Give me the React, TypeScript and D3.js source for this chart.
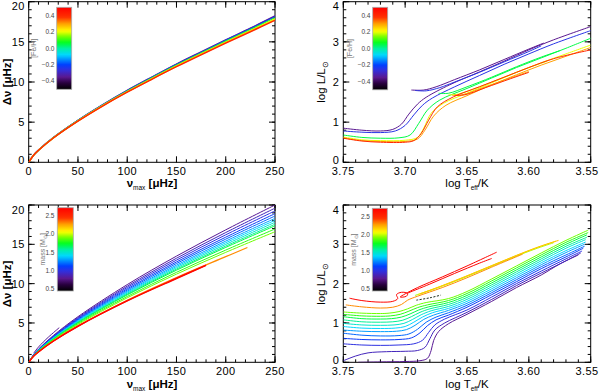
import React, { useEffect, useRef } from "react";
import * as d3 from "d3";

// ---- colour table (IDL-like rainbow, black at bottom) ----
const cmapStops = [0, 0.08, 0.15, 0.24, 0.3, 0.42, 0.5, 0.57, 0.64, 0.71, 0.8, 0.88, 1];
const cmapColors = ["#000000", "#2a0040", "#5a1890", "#3030e0", "#0040ff", "#00d8ff", "#00f0a0", "#00ff20", "#70ff00", "#ffff00", "#ffa000", "#ff3000", "#ff0000"];

// ---- top row: metallicity tracks ----
const fehDomain = [-0.5, 0.5];
const fehTicks = [-0.4, -0.2, 0.0, 0.2, 0.4];
const fehValues = [-0.35, -0.25, 0.05, 0.2, 0.3, 0.4];
const nuTop = [0, 5, 10, 25, 50, 75, 100, 125, 150, 175, 200, 225, 250];
const dnuFeh = [
  [0, 0.9, 1.53, 3.08, 5.24, 7.17, 8.96, 10.62, 12.24, 13.75, 15.25, 16.7, 18.22],
  [0, 0.9, 1.52, 3.07, 5.22, 7.15, 8.93, 10.58, 12.2, 13.7, 15.2, 16.65, 18.15],
  [0, 0.89, 1.51, 3.05, 5.19, 7.1, 8.86, 10.5, 12.1, 13.6, 15.08, 16.52, 18.0],
  [0, 0.89, 1.5, 3.04, 5.16, 7.06, 8.8, 10.43, 12.0, 13.5, 14.97, 16.4, 17.85],
  [0, 0.88, 1.5, 3.03, 5.14, 7.03, 8.76, 10.38, 11.95, 13.44, 14.9, 16.32, 17.75],
  [0, 0.88, 1.49, 3.02, 5.12, 7.0, 8.73, 10.34, 11.9, 13.39, 14.84, 16.25, 17.68],
];
// HR tracks [logTeff, logL]
const hrFehRgb = [
  [[3.75, 0.85], [3.735, 0.8], [3.72, 0.78], [3.71, 0.82], [3.703, 0.95], [3.697, 1.2], [3.69, 1.45], [3.683, 1.62], [3.664, 1.93], [3.64, 2.25], [3.62, 2.52], [3.6, 2.8], [3.58, 3.05], [3.55, 3.38]],
  [[3.75, 0.78], [3.735, 0.75], [3.72, 0.74], [3.708, 0.78], [3.7, 0.92], [3.693, 1.18], [3.686, 1.42], [3.678, 1.6], [3.66, 1.88], [3.64, 2.16], [3.62, 2.44], [3.6, 2.7], [3.58, 2.95], [3.55, 3.28]],
  [[3.75, 0.68], [3.735, 0.62], [3.72, 0.6], [3.705, 0.61], [3.696, 0.68], [3.689, 0.97], [3.682, 1.3], [3.672, 1.55], [3.65, 1.84], [3.63, 2.1], [3.61, 2.36], [3.59, 2.6], [3.57, 2.84], [3.55, 3.09]],
  [[3.75, 0.63], [3.735, 0.56], [3.72, 0.54], [3.7, 0.55], [3.69, 0.62], [3.685, 0.85], [3.679, 1.22], [3.669, 1.47], [3.65, 1.72], [3.63, 1.98], [3.61, 2.24], [3.59, 2.48], [3.57, 2.7], [3.55, 2.92]],
  [[3.75, 0.61], [3.735, 0.54], [3.72, 0.52], [3.7, 0.52], [3.69, 0.58], [3.684, 0.8], [3.677, 1.15], [3.667, 1.42], [3.65, 1.66], [3.63, 1.93], [3.61, 2.18], [3.59, 2.42], [3.57, 2.64], [3.55, 2.86]],
  [[3.75, 0.6], [3.735, 0.53], [3.72, 0.5], [3.7, 0.5], [3.693, 0.54], [3.687, 0.72], [3.681, 1.05], [3.674, 1.38], [3.661, 1.63], [3.64, 1.88], [3.62, 2.12], [3.6, 2.36], [3.58, 2.58], [3.55, 2.8]],
];
const hrFehClump = [
  [[3.695, 1.8], [3.685, 1.8], [3.675, 1.88], [3.66, 2.06], [3.64, 2.3], [3.62, 2.56], [3.6, 2.82], [3.588, 2.97]],
  [[3.692, 1.79], [3.683, 1.78], [3.672, 1.86], [3.66, 2.0], [3.64, 2.24], [3.62, 2.5], [3.6, 2.76], [3.59, 2.9]],
  [[3.673, 1.72], [3.665, 1.72], [3.65, 1.88], [3.63, 2.12], [3.61, 2.38], [3.59, 2.62], [3.575, 2.78]],
  [[3.665, 1.68], [3.657, 1.7], [3.64, 1.88], [3.62, 2.12], [3.6, 2.36], [3.585, 2.52]],
  [[3.662, 1.67], [3.654, 1.68], [3.637, 1.86], [3.617, 2.08], [3.6, 2.26]],
  [[3.66, 1.67], [3.652, 1.68], [3.635, 1.86], [3.615, 2.08], [3.6, 2.24]],
];

// ---- bottom row: mass tracks ----
const massDomain = [0.45, 2.72];
const massTicks = [0.5, 1.0, 1.5, 2.0, 2.5];
const masses = [0.8, 0.9, 1.0, 1.1, 1.2, 1.3, 1.4, 1.5, 1.6, 1.7, 1.8, 1.9];
const nuBottom = [0, 5, 10, 25, 50, 100, 150, 200, 250];
const dnuMass = [
  [0, 0.98, 1.68, 3.4, 5.8, 9.88, 13.5, 16.84, 20.0],
  [0, 0.96, 1.65, 3.33, 5.68, 9.68, 13.23, 16.5, 19.6],
  [0, 0.94, 1.62, 3.27, 5.58, 9.51, 12.99, 16.21, 19.25],
  [0, 0.93, 1.59, 3.21, 5.48, 9.34, 12.76, 15.91, 18.9],
  [0, 0.91, 1.56, 3.16, 5.39, 9.19, 12.56, 15.66, 18.6],
  [0, 0.9, 1.54, 3.11, 5.31, 9.04, 12.35, 15.41, 18.3],
  [0, 0.88, 1.52, 3.07, 5.23, 8.92, 12.18, 15.2, 18.05],
  [0, 0.87, 1.5, 3.03, 5.16, 8.79, 12.02, 14.99, 17.8],
  [0, 0.86, 1.47, 2.98, 5.09, 8.67, 11.85, 14.78, 17.55],
  [0, 0.85, 1.46, 2.95, 5.03, 8.57, 11.71, 14.61, 17.35],
  [0, 0.83, 1.42, 2.88, 4.92, 8.37, 11.44, 14.27, 16.95],
  [0, 0.81, 1.39, 2.82, 4.81, 8.2, 11.21, 13.98, 16.6],
];
const massHigh = [2.3, 2.6, 2.7];
const nuHigh = [
  [0, 5, 10, 25, 50, 100, 150, 200, 222],
  [0, 5, 10, 25, 50, 100, 150, 180],
  [0, 5, 10, 25, 50, 100, 150, 180],
];
const dnuHigh = [
  [0, 0.78, 1.34, 2.72, 4.63, 7.89, 10.77, 13.43, 14.6],
  [0, 0.78, 1.33, 2.7, 4.6, 7.84, 10.7, 12.36],
  [0, 0.77, 1.32, 2.68, 4.57, 7.79, 10.63, 12.3],
];
const nuShortLow = [5, 10, 20, 31];
const dnuShortLow = [1.15, 1.95, 3.2, 4.4];

const hrMass = [
  [[3.738, 0.0], [3.72, 0.01], [3.7, 0.02], [3.688, 0.04], [3.682, 0.1], [3.679, 0.3], [3.677, 0.55], [3.673, 0.78], [3.665, 0.98], [3.65, 1.22], [3.63, 1.55], [3.61, 1.9], [3.59, 2.22], [3.575, 2.5], [3.56, 2.73]],
  [[3.75, 0.04], [3.74, 0.16], [3.73, 0.24], [3.715, 0.27], [3.7, 0.28], [3.69, 0.3], [3.684, 0.38], [3.68, 0.6], [3.676, 0.82], [3.668, 1.0], [3.65, 1.27], [3.63, 1.6], [3.61, 1.95], [3.59, 2.27], [3.57, 2.58], [3.558, 2.78]],
  [[3.75, 0.47], [3.735, 0.44], [3.72, 0.43], [3.705, 0.44], [3.693, 0.47], [3.686, 0.56], [3.681, 0.76], [3.676, 0.95], [3.668, 1.1], [3.65, 1.33], [3.63, 1.66], [3.61, 2.0], [3.59, 2.32], [3.57, 2.63], [3.557, 2.83]],
  [[3.75, 0.61], [3.735, 0.58], [3.72, 0.57], [3.705, 0.58], [3.695, 0.62], [3.688, 0.75], [3.682, 0.93], [3.675, 1.08], [3.665, 1.2], [3.65, 1.4], [3.63, 1.72], [3.61, 2.05], [3.59, 2.38], [3.57, 2.68], [3.556, 2.9]],
  [[3.75, 0.74], [3.735, 0.69], [3.72, 0.67], [3.705, 0.68], [3.697, 0.72], [3.69, 0.84], [3.683, 1.02], [3.675, 1.15], [3.665, 1.26], [3.65, 1.45], [3.63, 1.77], [3.61, 2.1], [3.59, 2.43], [3.57, 2.73], [3.555, 2.95]],
  [[3.75, 0.82], [3.735, 0.79], [3.72, 0.78], [3.707, 0.79], [3.699, 0.83], [3.692, 0.94], [3.685, 1.09], [3.677, 1.2], [3.665, 1.32], [3.65, 1.5], [3.63, 1.82], [3.61, 2.15], [3.59, 2.48], [3.57, 2.79], [3.555, 3.0]],
  [[3.75, 0.91], [3.735, 0.87], [3.72, 0.86], [3.708, 0.87], [3.7, 0.91], [3.693, 1.02], [3.686, 1.15], [3.678, 1.26], [3.665, 1.37], [3.65, 1.55], [3.63, 1.87], [3.61, 2.2], [3.59, 2.53], [3.57, 2.84], [3.554, 3.06]],
  [[3.75, 0.99], [3.735, 0.95], [3.72, 0.94], [3.709, 0.95], [3.701, 0.99], [3.694, 1.09], [3.687, 1.21], [3.679, 1.31], [3.665, 1.42], [3.65, 1.6], [3.63, 1.92], [3.61, 2.25], [3.59, 2.58], [3.57, 2.9], [3.554, 3.12]],
  [[3.75, 1.08], [3.735, 1.03], [3.72, 1.02], [3.71, 1.03], [3.702, 1.07], [3.695, 1.16], [3.688, 1.27], [3.68, 1.36], [3.665, 1.47], [3.65, 1.65], [3.63, 1.97], [3.61, 2.3], [3.59, 2.63], [3.57, 2.95], [3.553, 3.18]],
  [[3.75, 1.16], [3.735, 1.11], [3.72, 1.1], [3.711, 1.11], [3.703, 1.15], [3.696, 1.23], [3.689, 1.33], [3.681, 1.41], [3.665, 1.52], [3.65, 1.7], [3.63, 2.02], [3.61, 2.35], [3.59, 2.68], [3.57, 3.0], [3.553, 3.24]],
  [[3.75, 1.22], [3.735, 1.18], [3.72, 1.17], [3.712, 1.18], [3.704, 1.22], [3.697, 1.3], [3.69, 1.39], [3.682, 1.46], [3.665, 1.57], [3.65, 1.75], [3.63, 2.07], [3.61, 2.4], [3.59, 2.73], [3.57, 3.05], [3.552, 3.3]],
  [[3.75, 1.28], [3.735, 1.25], [3.72, 1.24], [3.713, 1.25], [3.705, 1.29], [3.698, 1.36], [3.691, 1.45], [3.683, 1.52], [3.665, 1.62], [3.65, 1.8], [3.63, 2.12], [3.61, 2.45], [3.59, 2.78], [3.57, 3.1], [3.552, 3.36]],
];
const hrAgbMasses = [1.95, 2.1, 2.2];
const hrAgb = [
  [[3.692, 1.7], [3.675, 1.88], [3.655, 2.12], [3.635, 2.38], [3.615, 2.64], [3.595, 2.88], [3.58, 3.04]],
  [[3.69, 1.72], [3.672, 1.92], [3.652, 2.17], [3.632, 2.43], [3.612, 2.69], [3.592, 2.93], [3.578, 3.08]],
  [[3.688, 1.74], [3.67, 1.95], [3.65, 2.2], [3.63, 2.46], [3.61, 2.72], [3.59, 2.96], [3.576, 3.1]],
];
const hrOrange = [[3.748, 1.46], [3.735, 1.41], [3.72, 1.38], [3.71, 1.4], [3.703, 1.47], [3.698, 1.58], [3.69, 1.68], [3.67, 1.9], [3.65, 2.15], [3.63, 2.42], [3.605, 2.75]];
const hrRed = [[3.745, 1.63], [3.735, 1.57], [3.72, 1.53], [3.71, 1.55], [3.706, 1.62], [3.707, 1.72], [3.703, 1.78], [3.698, 1.75], [3.699, 1.68], [3.704, 1.66], [3.7, 1.74], [3.69, 1.9], [3.67, 2.17], [3.65, 2.45], [3.626, 2.8]];
const hrRedAgb = [[3.698, 1.76], [3.68, 1.99], [3.66, 2.26], [3.64, 2.52], [3.63, 2.64]];
const hrZahb = [[3.691, 1.58], [3.68, 1.64], [3.671, 1.71]];

const FONT = "'Liberation Sans', Arial, sans-serif";

export default function App() {
  const svgRef = useRef(null);

  useEffect(() => {
    const svg = d3.select(svgRef.current);
    svg.selectAll("*").remove();

    const cmap = d3.scaleLinear<string>().domain(cmapStops).range(cmapColors).interpolate(d3.interpolateRgb).clamp(true);
    const fehColor = (v: number) => cmap((v - fehDomain[0]) / (fehDomain[1] - fehDomain[0]));
    const massColor = (v: number) => cmap((v - massDomain[0]) / (massDomain[1] - massDomain[0]));

    const defs = svg.append("defs");
    const grad = defs.append("linearGradient").attr("id", "cbar")
      .attr("x1", 0).attr("y1", 1).attr("x2", 0).attr("y2", 0);
    d3.range(0, 41).forEach((i) => {
      grad.append("stop").attr("offset", i / 40).attr("stop-color", cmap(i / 40));
    });

    //panel frame + inward ticks on all sides
    const makePanel = (id, x, y, xMajor, xMinor, yMajor, yMinor, xFmt, yFmt) => {
      const [x0, x1] = x.range();
      const [y0, y1] = y.range();
      defs.append("clipPath").attr("id", id).append("rect")
        .attr("x", x0).attr("y", y1).attr("width", x1 - x0).attr("height", y0 - y1);
      const g = svg.append("g");
      const ax = g.append("g").attr("stroke", "#000").attr("stroke-width", 1);
      xMinor.forEach((v) => {
        const px = x(v);
        ax.append("line").attr("x1", px).attr("x2", px).attr("y1", y0).attr("y2", y0 - 3);
        ax.append("line").attr("x1", px).attr("x2", px).attr("y1", y1).attr("y2", y1 + 3);
      });
      xMajor.forEach((v) => {
        const px = x(v);
        ax.append("line").attr("x1", px).attr("x2", px).attr("y1", y0).attr("y2", y0 - 6);
        ax.append("line").attr("x1", px).attr("x2", px).attr("y1", y1).attr("y2", y1 + 6);
      });
      yMinor.forEach((v) => {
        const py = y(v);
        ax.append("line").attr("x1", x0).attr("x2", x0 + 3).attr("y1", py).attr("y2", py);
        ax.append("line").attr("x1", x1).attr("x2", x1 - 3).attr("y1", py).attr("y2", py);
      });
      yMajor.forEach((v) => {
        const py = y(v);
        ax.append("line").attr("x1", x0).attr("x2", x0 + 6).attr("y1", py).attr("y2", py);
        ax.append("line").attr("x1", x1).attr("x2", x1 - 6).attr("y1", py).attr("y2", py);
      });
      ax.append("rect").attr("x", x0).attr("y", y1).attr("width", x1 - x0).attr("height", y0 - y1)
        .attr("fill", "none");
      const lab = g.append("g").attr("font-family", FONT).attr("font-size", 11)
        .attr("letter-spacing", 0.4).attr("fill", "#000");
      xMajor.forEach((v) => {
        const px = Math.min(x(v), 587);
        lab.append("text").attr("x", px).attr("y", y0 + 13).attr("text-anchor", "middle").text(xFmt(v));
      });
      yMajor.forEach((v) => {
        const py = Math.max(y1 + 8.5, Math.min(y0 + 1.5, y(v) + 4));
        lab.append("text").attr("x", x0 - 4).attr("y", py).attr("text-anchor", "end").text(yFmt(v));
      });
      return g.append("g").attr("clip-path", `url(#${id})`);
    };

    const colorbar = (x0, y0, w, h, domain, ticks, title, titleX, labelRight) => {
      const s = d3.scaleLinear().domain(domain).range([y0 + h, y0]);
      svg.append("rect").attr("x", x0).attr("y", y0).attr("width", w).attr("height", h)
        .attr("fill", "url(#cbar)").attr("stroke", "#aaa").attr("stroke-width", 0.8);
      const g = svg.append("g").attr("font-family", FONT).attr("font-size", 6.5).attr("fill", "#444");
      ticks.forEach((t) => {
        g.append("text").attr("x", labelRight).attr("y", s(t) + 2.3).attr("text-anchor", "end")
          .text(d3.format(".1f")(t).replace("-", "\u2212"));
      });
      const cy = y0 + h / 2;
      const tt = g.append("text").attr("transform", `translate(${titleX},${cy}) rotate(-90)`)
        .attr("text-anchor", "middle").attr("font-size", 7).attr("fill", "#777");
      title(tt);
    };

    const line = (x, y) => d3.line().x((d) => x(d[0])).y((d) => y(d[1])).curve(d3.curveCatmullRom.alpha(0.5));

    const intTicks = (a, b, s) => d3.range(Math.round((b - a) / s) + 1).map((i) => a + i * s);
    const fmtInt = (v) => String(Math.round(v));
    const fmtT = (v) => d3.format(".2f")(v);

    // scales for the four panels
    const xNuTop = d3.scaleLinear().domain([0, 250]).range([28.7, 275]);
    const yDnuTop = d3.scaleLinear().domain([0, 20]).range([162.3, 1.7]);
    const xTTop = d3.scaleLinear().domain([3.75, 3.55]).range([343.3, 590.7]);
    const yLTop = d3.scaleLinear().domain([0, 4]).range([162.3, 1.7]);
    const xNuBot = d3.scaleLinear().domain([0, 250]).range([28.7, 275]);
    const yDnuBot = d3.scaleLinear().domain([0, 20]).range([362.3, 205]);
    const xTBot = d3.scaleLinear().domain([3.75, 3.55]).range([343.3, 590.7]);
    const yLBot = d3.scaleLinear().domain([0, 4]).range([362.3, 205]);

    const nuMajor = intTicks(0, 250, 50);
    const nuMinor = intTicks(0, 250, 10);
    const dnuMajor = intTicks(0, 20, 5);
    const dnuMinor = intTicks(0, 20, 1);
    const tMajor = intTicks(3.55, 3.75, 0.05);
    const tMinor = intTicks(3.55, 3.75, 0.01);
    const lMajor = intTicks(0, 4, 1);
    const lMinor = intTicks(0, 4, 0.2);

    // ---- top left ----
    const p1 = makePanel("c1", xNuTop, yDnuTop, nuMajor, nuMinor, dnuMajor, dnuMinor, fmtInt, fmtInt);
    const l1 = line(xNuTop, yDnuTop);
    fehValues.forEach((f, i) => {
      p1.append("path").datum(nuTop.map((n, j) => [n, dnuFeh[i][j]]))
        .attr("fill", "none").attr("stroke", fehColor(f)).attr("stroke-width", 1.4).attr("d", l1);
    });

    // ---- top right ----
    const p2 = makePanel("c2", xTTop, yLTop, tMajor, tMinor, lMajor, lMinor, fmtT, fmtInt);
    const l2 = line(xTTop, yLTop);
    fehValues.forEach((f, i) => {
      p2.append("path").datum(hrFehRgb[i]).attr("fill", "none").attr("stroke", fehColor(f))
        .attr("stroke-width", 1).attr("d", l2);
      p2.append("path").datum(hrFehClump[i]).attr("fill", "none").attr("stroke", fehColor(f))
        .attr("stroke-width", 1).attr("d", l2);
    });

    // ---- bottom left ----
    const p3 = makePanel("c3", xNuBot, yDnuBot, nuMajor, nuMinor, dnuMajor, dnuMinor, fmtInt, fmtInt);
    const l3 = line(xNuBot, yDnuBot);
    masses.forEach((m, i) => {
      p3.append("path").datum(nuBottom.map((n, j) => [n, dnuMass[i][j]]))
        .attr("fill", "none").attr("stroke", massColor(m)).attr("stroke-width", 1).attr("d", l3);
    });
    p3.append("path").datum(nuShortLow.map((n, j) => [n, dnuShortLow[j]]))
      .attr("fill", "none").attr("stroke", massColor(masses[0])).attr("stroke-width", 1).attr("d", l3);
    massHigh.forEach((m, i) => {
      p3.append("path").datum(nuHigh[i].map((n, j) => [n, dnuHigh[i][j]]))
        .attr("fill", "none").attr("stroke", massColor(m)).attr("stroke-width", 1.2).attr("d", l3);
    });

    // ---- bottom right ----
    const p4 = makePanel("c4", xTBot, yLBot, tMajor, tMinor, lMajor, lMinor, fmtT, fmtInt);
    const l4 = line(xTBot, yLBot);
    masses.forEach((m, i) => {
      p4.append("path").datum(hrMass[i]).attr("fill", "none").attr("stroke", massColor(m))
        .attr("stroke-width", 1).attr("d", l4);
    });
    hrAgbMasses.forEach((m, i) => {
      p4.append("path").datum(hrAgb[i]).attr("fill", "none").attr("stroke", massColor(m))
        .attr("stroke-width", 1).attr("d", l4);
    });
    p4.append("path").datum(hrOrange).attr("fill", "none").attr("stroke", massColor(massHigh[0]))
      .attr("stroke-width", 1).attr("d", l4);
    p4.append("path").datum(hrRed).attr("fill", "none").attr("stroke", massColor(massHigh[2]))
      .attr("stroke-width", 1).attr("d", l4);
    p4.append("path").datum(hrRedAgb).attr("fill", "none").attr("stroke", massColor(massHigh[2]))
      .attr("stroke-width", 1).attr("d", l4);
    p4.append("path").datum(hrZahb).attr("fill", "none").attr("stroke", "#203020")
      .attr("stroke-width", 1).attr("stroke-dasharray", "2,1.5").attr("d", l4);

    // ---- colour bars ----
    const fehTitle = (t) => t.text("[Fe/H]");
    const massTitle = (t) => {
      t.append("tspan").text("mass [M");
      t.append("tspan").attr("font-size", 5).attr("dy", 1.5).text("\u2299");
      t.append("tspan").attr("dy", -1.5).text("]");
    };
    colorbar(56.7, 7.3, 15, 82, fehDomain, fehTicks, fehTitle, 36, 54.5);
    colorbar(372.7, 7.3, 15, 82.5, fehDomain, fehTicks, fehTitle, 352, 370.5);
    colorbar(57.3, 207.7, 16, 83.3, massDomain, massTicks, massTitle, 45, 54.5);
    colorbar(372.3, 208.3, 15, 82.7, massDomain, massTicks, massTitle, 356, 370);

    // ---- axis titles ----
    const titles = svg.append("g").attr("font-family", FONT).attr("font-size", 11.5).attr("fill", "#000");
    const dnuTitle = (cx, cy) => {
      const t = titles.append("text").attr("transform", `translate(${cx},${cy}) rotate(-90)`)
        .attr("text-anchor", "middle").attr("font-weight", "bold");
      t.append("tspan").text("\u0394\u03bd [\u03bcHz]");
    };
    const nuTitle = (cx, cy) => {
      const t = titles.append("text").attr("x", cx).attr("y", cy).attr("text-anchor", "middle");
      t.append("tspan").attr("font-weight", "bold").text("\u03bd");
      t.append("tspan").attr("font-size", 6.5).attr("dy", 2.5).text("max");
      t.append("tspan").attr("dy", -2.5).attr("font-weight", "bold").text(" [\u03bcHz]");
    };
    const lumTitle = (cx, cy) => {
      const t = titles.append("text").attr("transform", `translate(${cx},${cy}) rotate(-90)`)
        .attr("text-anchor", "middle");
      t.append("tspan").text("log L/L");
      t.append("tspan").attr("font-size", 8).attr("dy", 3).text("\u2299");
    };
    const teffTitle = (cx, cy) => {
      const t = titles.append("text").attr("x", cx).attr("y", cy).attr("text-anchor", "middle");
      t.append("tspan").text("log T");
      t.append("tspan").attr("font-size", 6.5).attr("dy", 2.5).text("eff");
      t.append("tspan").attr("dy", -2.5).text("/K");
    };
    dnuTitle(11, 82);
    nuTitle(152, 187);
    lumTitle(325, 82);
    teffTitle(467, 187);
    dnuTitle(11, 284);
    nuTitle(152, 388);
    lumTitle(325, 284);
    teffTitle(467, 388);
  }, []);

  return (
    <svg ref={svgRef} width={600} height={391}
      style={{ position: "absolute", left: 0, top: 0, background: "#fff" }} />
  );
}
